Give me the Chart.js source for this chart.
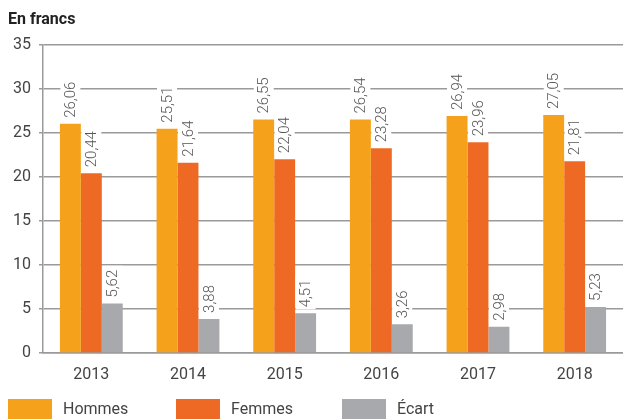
<!DOCTYPE html>
<html>
<head>
<meta charset="utf-8">
<script src="https://cdn.jsdelivr.net/npm/chart.js@4/dist/chart.umd.min.js"></script>
<style>
html,body{margin:0;padding:0;background:#fff;}
#wrap{width:623px;height:419px;position:relative;}
</style>
</head>
<body>
<div id="wrap"><canvas id="c" width="623" height="419"></canvas></div>
<script>
const categories = ['2013','2014','2015','2016','2017','2018'];
const hommes = [26.06, 25.51, 26.55, 26.54, 26.94, 27.05];
const femmes = [20.44, 21.64, 22.04, 23.28, 23.96, 21.81];
const ecart  = [5.62, 3.88, 4.51, 3.26, 2.98, 5.23];
const seriesNames = ['Hommes','Femmes','Écart'];
const seriesColors = ['#F6A11B','#EE6A24','#A7A9AC'];
const yTicks = [0,5,10,15,20,25,30,35];

const fmt = v => v.toFixed(2).replace('.', ',');
const FONT = 'Roboto, "Liberation Sans", sans-serif';

const valueLabels = {
  id: 'valueLabels',
  afterDatasetsDraw(chart) {
    const ctx = chart.ctx;
    chart.data.datasets.forEach((ds, i) => {
      const meta = chart.getDatasetMeta(i);
      meta.data.forEach((bar, j) => {
        const txt = fmt(ds.data[j]);
        ctx.save();
        ctx.translate(bar.x, bar.y - 6);
        ctx.rotate(-Math.PI / 2);
        ctx.font = '300 15px ' + FONT;
        const w = ctx.measureText(txt).width;
        ctx.fillStyle = '#fff';
        ctx.fillRect(-2, -10, w + 6, 20);
        ctx.fillStyle = '#555';
        ctx.textAlign = 'left';
        ctx.textBaseline = 'middle';
        ctx.fillText(txt, 0, 1);
        ctx.restore();
      });
    });
  }
};

const customLegend = {
  id: 'customLegend',
  afterDraw(chart) {
    const ctx = chart.ctx;
    const xs = [8, 176, 342];
    chart.data.datasets.forEach((ds, i) => {
      ctx.save();
      ctx.fillStyle = ds.backgroundColor;
      ctx.fillRect(xs[i], 399, 44, 22);
      ctx.fillStyle = '#444';
      ctx.font = '16px ' + FONT;
      ctx.textBaseline = 'middle';
      ctx.fillText(ds.label, xs[i] + 55, 410);
      ctx.restore();
    });
  }
};

new Chart(document.getElementById('c'), {
  type: 'bar',
  data: {
    labels: categories,
    datasets: [
      { label: seriesNames[0], data: hommes, backgroundColor: seriesColors[0] },
      { label: seriesNames[1], data: femmes, backgroundColor: seriesColors[1] },
      { label: seriesNames[2], data: ecart, backgroundColor: seriesColors[2] }
    ]
  },
  options: {
    responsive: false,
    animation: false,
    layout: { padding: { left: 8, right: 0, top: 0, bottom: 34 } },
    datasets: { bar: { categoryPercentage: 0.65, barPercentage: 1.0 } },
    plugins: {
      legend: { display: false },
      tooltip: { enabled: false },
      title: {
        display: true,
        text: 'En francs',
        align: 'start',
        color: '#222',
        font: { family: FONT, size: 16, weight: 'bold' },
        padding: { top: 10, bottom: 16 }
      }
    },
    scales: {
      x: {
        grid: { display: false, drawTicks: false },
        border: { display: true, color: '#9a9a9a', width: 1.5 },
        ticks: { color: '#444', font: { family: FONT, size: 16 }, padding: 12 },
        afterFit(s) { s.height = 32; }
      },
      y: {
        min: 0, max: 35,
        afterBuildTicks(s) { s.ticks = yTicks.map(v => ({ value: v })); },
        grid: { color: '#9a9a9a', lineWidth: 1.5, tickLength: 4, drawTicks: true },
        border: { display: true, color: '#9a9a9a', width: 1.5 },
        ticks: { color: '#444', font: { family: FONT, size: 16 }, padding: 8 },
        afterFit(s) { s.width = 35; }
      }
    }
  },
  plugins: [valueLabels, customLegend]
});
</script>
</body>
</html>
